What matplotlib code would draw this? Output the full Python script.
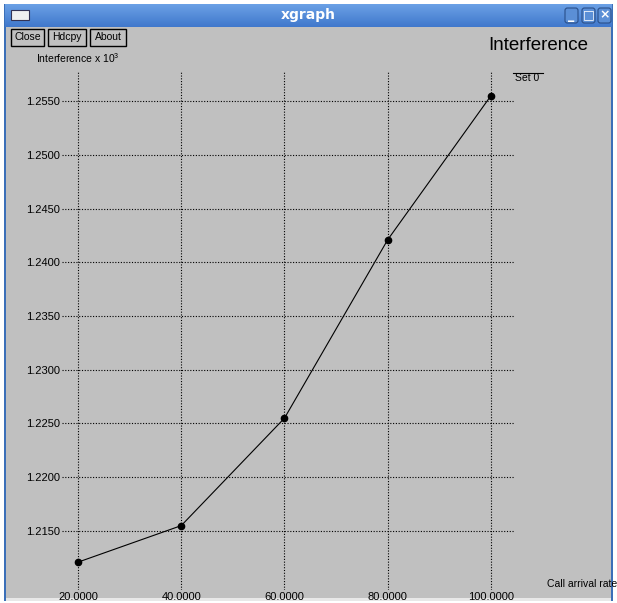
#!/usr/bin/env python3
import numpy as np
import matplotlib
matplotlib.use('Agg')
from matplotlib import pyplot as plt
from matplotlib.patches import Rectangle, FancyBboxPatch

# data (interference in units of 10^3)
arrival_rate = [20, 40, 60, 80, 100]
interference = [1.2121, 1.2155, 1.2255, 1.2421, 1.2555]
xticks = [20, 40, 60, 80, 100]
yticks = [1.2150, 1.2200, 1.2250, 1.2300, 1.2350, 1.2400, 1.2450, 1.2500, 1.2550]

W, H = 617, 603
BG = '#c0c0c0'
FONT = 'Liberation Sans'


def fx(px):
  return px / W


def fy(py):
  return 1 - py / H


fig = plt.figure(figsize=(W / 100, H / 100), dpi=100)
fig.patch.set_facecolor('white')

# window frame and client area (behind everything)
fig.add_artist(Rectangle((fx(4), fy(601)), fx(613) - fx(4), fy(4) - fy(601),
  transform=fig.transFigure, facecolor='#3b6fb8', edgecolor='none', zorder=-10))
fig.add_artist(Rectangle((fx(6), fy(598)), fx(611) - fx(6), fy(27) - fy(598),
  transform=fig.transFigure, facecolor=BG, edgecolor='none', zorder=-9))
fig.add_artist(Rectangle((fx(6), fy(601)), fx(611) - fx(6), fy(598) - fy(601),
  transform=fig.transFigure, facecolor='#e8e8e8', edgecolor='none', zorder=-9))

# title bar gradient
tb = fig.add_axes([fx(5), fy(27), fx(612) - fx(5), fy(4) - fy(27)])
grad = np.linspace(0, 1, 50).reshape(-1, 1)
top = np.array([0.42, 0.63, 0.90])
bot = np.array([0.25, 0.47, 0.80])
img = top + (bot - top) * grad[..., None]
tb.imshow(img.repeat(2, axis=1), aspect='auto', extent=[0, 1, 0, 1])
tb.set_axis_off()
fig.text(fx(308), fy(15), 'xgraph', color='white', fontsize=10,
  fontweight='bold', ha='center', va='center', family='DejaVu Sans')
# window menu icon
fig.add_artist(Rectangle((fx(11), fy(20)), fx(29) - fx(11), fy(10) - fy(20),
  transform=fig.transFigure, facecolor='#f0f0f0', edgecolor='#335', lw=0.8))
# window control buttons
for x0, sym in [(565, '_'), (582, '□'), (598, '×')]:
  fig.add_artist(FancyBboxPatch((fx(x0), fy(23)), fx(13), fy(8) - fy(23),
    boxstyle='round,pad=0,rounding_size=0.004', transform=fig.transFigure,
    facecolor='#5b8fd6', edgecolor='#2a4f8a', lw=0.8))
  fig.text(fx(x0 + 6.5), fy(15), sym, color='white', fontsize=9,
    fontweight='bold', ha='center', va='center', family='DejaVu Sans')

# xgraph buttons
for x0, x1, label in [(11, 44, 'Close'), (48, 86, 'Hdcpy'), (90, 126, 'About')]:
  fig.add_artist(Rectangle((fx(x0), fy(46)), fx(x1) - fx(x0), fy(29) - fy(46),
    transform=fig.transFigure, facecolor=BG, edgecolor='black', lw=1))
  fig.text(fx((x0 + x1) / 2), fy(37.5), label, fontsize=7.5, ha='center',
    va='center', family=FONT)

# plot area
ax = fig.add_axes([fx(62), fy(590), fx(515) - fx(62), fy(72) - fy(590)])
ax.set_facecolor(BG)
ax.set_xlim(16.9, 104.65)
ax.set_ylim(1.20951, 1.2577)
for s in ax.spines.values():
  s.set_visible(False)
ax.set_xticks(xticks)
ax.set_yticks(yticks)
ax.set_xticklabels(['%.4f' % v for v in xticks], fontsize=8, family=FONT)
ax.set_yticklabels(['%.4f' % v for v in yticks], fontsize=8, family=FONT)
ax.tick_params(length=0, pad=1.5)
ax.grid(True, color='black', linestyle=(0, (1, 1.5)), linewidth=0.8)
ax.set_axisbelow(True)
ax.plot(arrival_rate, interference, color='black', linewidth=0.8,
  marker='o', markersize=4.5, clip_on=False)

fig.text(fx(36), fy(58), r'Interference x 10$^{\mathregular{3}}$', fontsize=7.5,
  ha='left', va='center', family=FONT)
fig.text(fx(588), fy(45), 'Interference', fontsize=13.5, ha='right',
  va='center', family=FONT)
fig.text(fx(547), fy(584), 'Call arrival rate', fontsize=7.5, ha='left',
  va='center', family=FONT)
fig.text(fx(515), fy(78), 'Set 0', fontsize=7.5, ha='left', va='center',
  family=FONT)
fig.add_artist(plt.Line2D([fx(513), fx(543)], [fy(72.5), fy(72.5)],
  transform=fig.transFigure, color='black', lw=0.8))

plt.savefig('out.png', dpi=100, facecolor=fig.get_facecolor())
